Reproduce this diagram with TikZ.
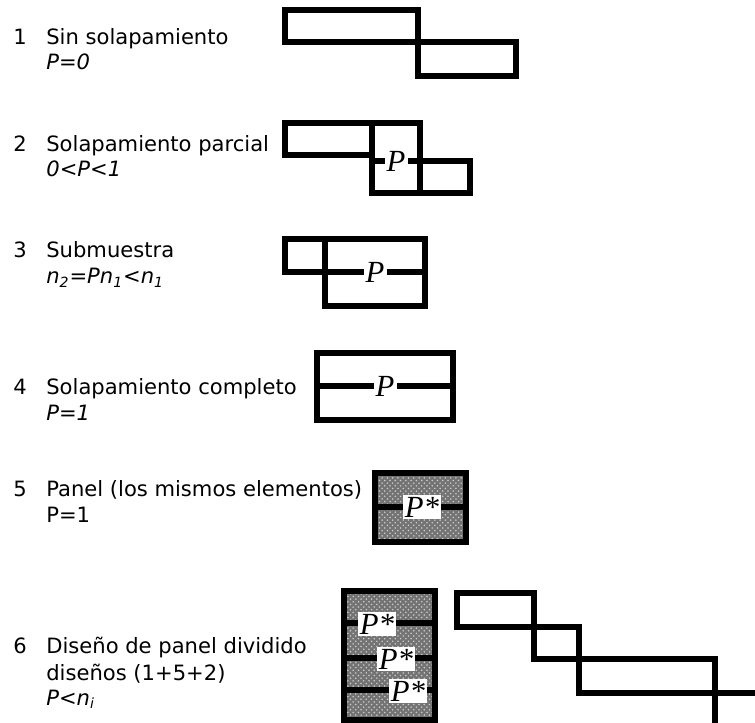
\documentclass[tikz,border=0pt]{standalone}
\usepackage{fontspec}
\setmainfont{DejaVu Sans}
\newfontfamily\pfont{Liberation Serif}
\usetikzlibrary{patterns}

\begin{document}
\begin{tikzpicture}[
    x=0.02cm, y=-0.02cm,
    every node/.style={font=\fontsize{12}{14.5}\selectfont,inner sep=0pt},
    lbl/.style={anchor=base west},
    blk/.style={draw=black,line width=2.9pt,line join=miter},
    shaded/.style={blk,preaction={fill=black!55},pattern=crosshatch dots,pattern color=black!20},
    plabel/.style={fill=white,inner sep=1.2pt,font=\fontsize{17.5}{17.5}\selectfont\pfont\itshape}
]
\useasboundingbox (0,0) rectangle (755,723);
\clip (0,0) rectangle (755,723);

% texts on the left
\node[lbl] (n1) at (13,45) {1};
\node[lbl] (t1) at (46,45) {Sin solapamiento};
\node[lbl] (p1) at (46,70) {\itshape P=0};
\node[lbl] (n2) at (13,152) {2};
\node[lbl] (t2) at (46,152) {Solapamiento parcial};
\node[lbl] (p2) at (46,177) {\itshape 0<P<1};
\node[lbl] (n3) at (13,257) {3};
\node[lbl] (t3) at (46,257) {Submuestra};
\node[lbl] (p3) at (46,284) {\itshape n\textsubscript{2}=Pn\textsubscript{1}<n\textsubscript{1}};
\node[lbl] (n4) at (13,395) {4};
\node[lbl] (t4) at (46,395) {Solapamiento completo};
\node[lbl] (p4) at (46,420) {\itshape P=1};
\node[lbl] (n5) at (13,497) {5};
\node[lbl] (t5) at (46,497) {Panel (los mismos elementos)};
\node[lbl] (p5) at (46,522) {P=1};
\node[lbl] (n6) at (13,653) {6};
\node[lbl] (t6) at (46,653) {Diseño de panel dividido};
\node[lbl] (u6) at (46,680) {diseños (1+5+2)};
\node[lbl] (p6) at (46,705) {\itshape P<n\textsubscript{i}};

% 1 sin solapamiento
\draw[blk] (285,10) rectangle (418,42);
\draw[blk] (418,42) rectangle (516,76);

% 2 solapamiento parcial
\draw[blk] (285,123) rectangle (372,155);
\draw[blk] (372,123) rectangle (420,193);
\draw[blk] (420,161) rectangle (470,193);
\draw[blk] (372,161) -- (420,161);
\node[plabel] (P2) at (396,161) {P};

% 3 submuestra
\draw[blk] (285,239) rectangle (325,272);
\draw[blk] (325,239) rectangle (425,306);
\draw[blk] (325,272) -- (425,272);
\node[plabel] (P3) at (375,272) {P};

% 4 solapamiento completo
\draw[blk] (317,353) rectangle (453,420);
\draw[blk] (317,386) -- (453,386);
\node[plabel] (P4) at (385,386) {P};

% 5 panel
\draw[shaded] (375,473) rectangle (466,542);
\draw[blk] (375,507) -- (466,507);
\node[plabel] (P5) at (422,507) {P*};

% 6 panel dividido
\draw[shaded] (344,591) rectangle (435,720);
\foreach \yy in {623,658,690}
  \draw[blk] (344,\yy) -- (435,\yy);
\node[plabel] (P6a) at (377,624) {P*};
\node[plabel] (P6b) at (396,659) {P*};
\node[plabel] (P6c) at (408,691) {P*};

\draw[blk] (457,593) rectangle (534,627);
\draw[blk] (534,627) rectangle (579,659);
\draw[blk] (579,659) rectangle (715,693);
\draw[blk] (715,693) rectangle (800,780);
\end{tikzpicture}
\end{document}
